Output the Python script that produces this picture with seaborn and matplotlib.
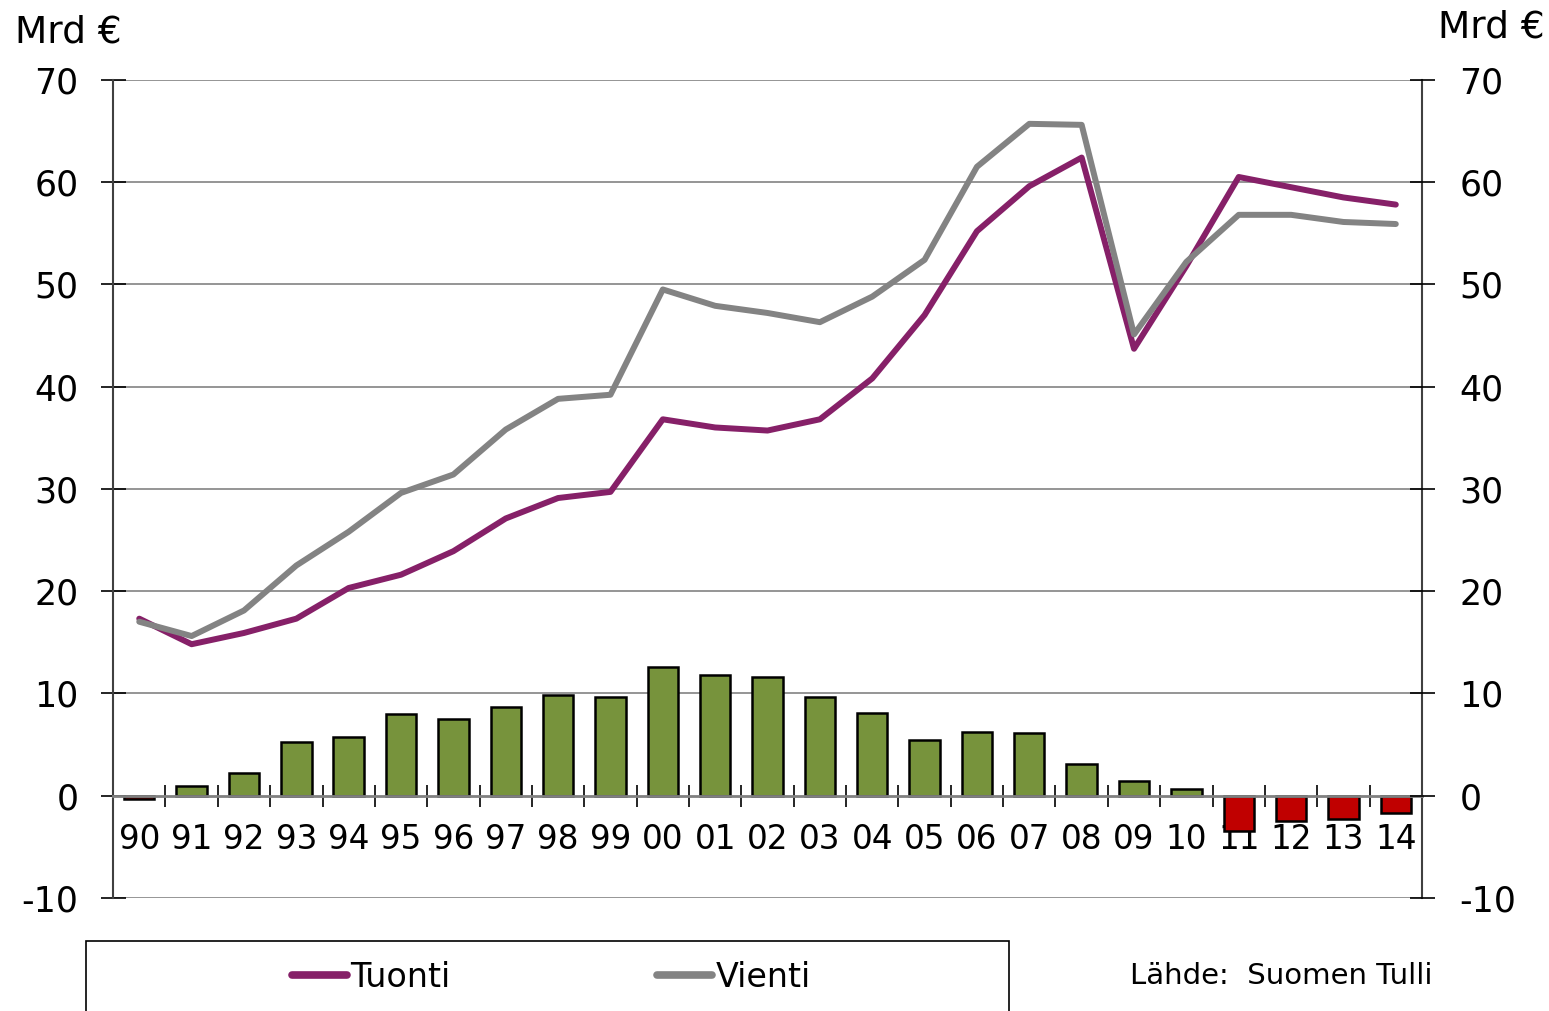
import numpy as np
import pandas as pd
import seaborn as sns
from matplotlib import pyplot as plt
from matplotlib.patches import Rectangle
from matplotlib.ticker import FixedLocator

# --- data (Mrd €) ---
years = ['90', '91', '92', '93', '94', '95', '96', '97', '98', '99', '00', '01', '02',
         '03', '04', '05', '06', '07', '08', '09', '10', '11', '12', '13', '14']
tuonti = [17.3, 14.8, 15.9, 17.3, 20.3, 21.6, 23.9, 27.1, 29.1, 29.7, 36.8, 36.0, 35.7,
          36.8, 40.8, 47.0, 55.2, 59.6, 62.4, 43.7, 51.8, 60.5, 59.5, 58.5, 57.8]
vienti = [17.0, 15.6, 18.1, 22.5, 25.8, 29.6, 31.4, 35.8, 38.8, 39.2, 49.5, 47.9, 47.2,
          46.3, 48.8, 52.4, 61.5, 65.7, 65.6, 45.1, 52.2, 56.8, 56.8, 56.1, 55.9]
tase = [-0.3, 0.9, 2.2, 5.2, 5.7, 8.0, 7.5, 8.7, 9.8, 9.6, 12.6, 11.8, 11.6,
        9.6, 8.1, 5.4, 6.2, 6.1, 3.1, 1.4, 0.6, -3.5, -2.5, -2.3, -1.7]

df = pd.DataFrame({'year': years, 'Tuonti': tuonti, 'Vienti': vienti, 'tase': tase})
df['pos'] = np.arange(len(df))
df['sign'] = np.where(df['tase'] >= 0, 'plus', 'minus')

purple = '#862068'
grey = '#838383'
green = '#77933C'
red = '#C00000'

sns.set_style('white')
plt.rcParams['font.family'] = ['DejaVu Sans']
plt.rcParams['text.color'] = 'black'

fig = plt.figure(figsize=(15.49, 10.11), dpi=100)
ax = fig.add_axes([0.073, 0.112, 0.845, 0.809])

# palkit: kauppatase
sns.barplot(data=df, x='year', y='tase', hue='sign', order=years,
            palette={'plus': green, 'minus': red}, dodge=False, width=0.58,
            saturation=1, edgecolor='black', linewidth=1.8, legend=False, ax=ax)

# viivat
long = df.melt(id_vars='pos', value_vars=['Tuonti', 'Vienti'], var_name='sarja', value_name='arvo')
sns.lineplot(data=long, x='pos', y='arvo', hue='sarja', palette={'Tuonti': purple, 'Vienti': grey},
             linewidth=4.3, legend=False, ax=ax)

ax.set_xlim(-0.5, len(years) - 0.5)
ax.set_ylim(-10, 70)
ax.set_xlabel('')
ax.set_ylabel('')

for v in range(10, 80, 10):
    ax.axhline(v, color='#8c8c8c', lw=1.3, zorder=0)
ax.axhline(-10, color='#8c8c8c', lw=2, zorder=0)

ax.spines['top'].set_visible(False)
for side in ['left', 'right']:
    ax.spines[side].set_color('#404040')
    ax.spines[side].set_linewidth(1.5)
ax.spines['bottom'].set_position(('data', 0))
ax.spines['bottom'].set_color('#808080')
ax.spines['bottom'].set_linewidth(2)

# x-akseli: nimet keskellä, merkit luokkien välissä
ax.set_xticks(df['pos'])
ax.set_xticklabels(years, fontsize=23.5)
ax.xaxis.set_minor_locator(FixedLocator(df['pos'][:-1] + 0.5))
ax.tick_params(axis='x', which='major', length=0, pad=20, bottom=True, labelcolor='black')
ax.tick_params(axis='x', which='minor', direction='inout', length=16, width=1.2, color='black', bottom=True)

yt = np.arange(-10, 80, 10)
ax.set_yticks(yt)
ax.set_yticklabels([str(v) for v in yt], fontsize=25)
ax.tick_params(axis='y', direction='inout', length=18, width=1.2, color='black', pad=16,
               left=True, labelcolor='black')

ax2 = ax.twinx()
ax2.set_ylim(-10, 70)
ax2.set_yticks(yt)
ax2.set_yticklabels([str(v) for v in yt], fontsize=25)
ax2.tick_params(axis='y', direction='inout', length=18, width=1.2, color='black', pad=18,
                right=True, labelcolor='black')
for s in ax2.spines.values():
    s.set_visible(False)

fig.text(0.010, 0.968, 'Mrd €', fontsize=27, ha='left', va='center')
fig.text(0.997, 0.973, 'Mrd €', fontsize=27, ha='right', va='center')

# selite
fig.patches.append(Rectangle((86 / 1549, -0.02), 923 / 1549, 0.089, transform=fig.transFigure,
                             fill=False, edgecolor='black', linewidth=1.2))
h1 = plt.Line2D([], [], color=purple, lw=5.5, solid_capstyle='round')
h2 = plt.Line2D([], [], color=grey, lw=5.5, solid_capstyle='round')
fig.legend([h1, h2], ['Tuonti', 'Vienti'], loc='center', bbox_to_anchor=(0.356, 0.033),
           ncol=2, frameon=False, fontsize=24, handlelength=1.65, handletextpad=0.1,
           columnspacing=6.2)

fig.text(0.925, 0.035, 'Lähde:  Suomen Tulli', fontsize=21, ha='right', va='center')

plt.savefig('out.png', dpi=100)
